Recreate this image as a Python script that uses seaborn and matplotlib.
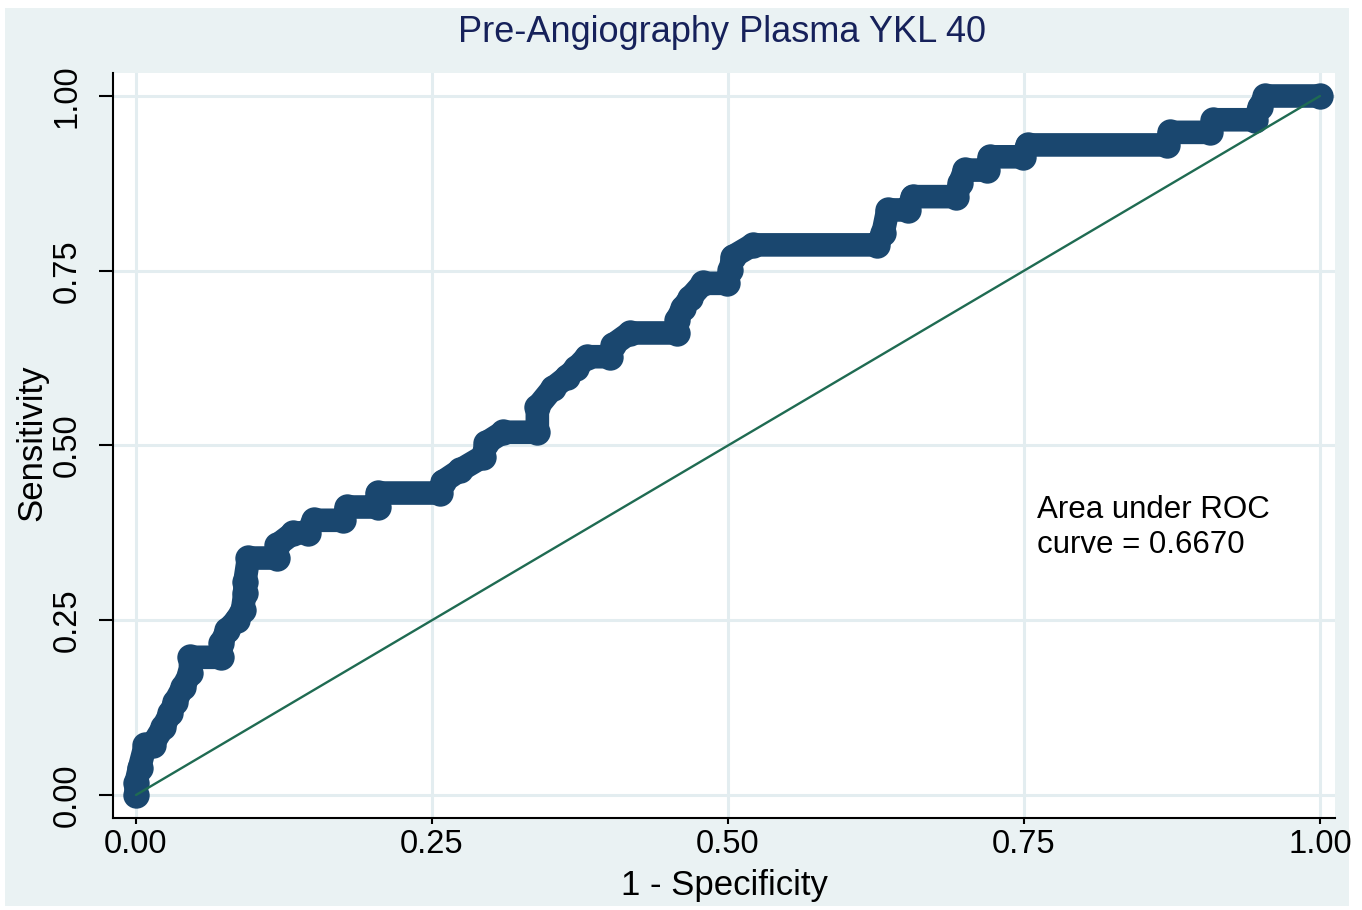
import matplotlib
matplotlib.use("Agg")
import matplotlib.pyplot as plt
import seaborn as sns
import pandas as pd
from matplotlib.patches import Rectangle

# ---- data ----
fpr = [0.000, 0.000, 0.003, 0.008, 0.014, 0.023, 0.029, 0.033, 0.040, 0.046,
       0.046, 0.072, 0.072, 0.077, 0.085, 0.090, 0.092, 0.092, 0.095, 0.119,
       0.119, 0.133, 0.145, 0.150, 0.175, 0.178, 0.204, 0.204, 0.257, 0.259,
       0.274, 0.293, 0.296, 0.310, 0.339, 0.339, 0.352, 0.364, 0.372, 0.381,
       0.400, 0.403, 0.417, 0.457, 0.457, 0.462, 0.468, 0.479, 0.499, 0.502,
       0.504, 0.521, 0.626, 0.631, 0.635, 0.652, 0.656, 0.693, 0.696, 0.700,
       0.719, 0.721, 0.749, 0.753, 0.871, 0.873, 0.907, 0.910, 0.945, 0.949,
       0.954, 1.000]
tpr = [0.000, 0.017, 0.039, 0.072, 0.072, 0.097, 0.117, 0.133, 0.155, 0.175,
       0.197, 0.197, 0.217, 0.236, 0.250, 0.265, 0.289, 0.305, 0.339, 0.339,
       0.357, 0.375, 0.375, 0.393, 0.393, 0.412, 0.412, 0.432, 0.432, 0.448,
       0.465, 0.484, 0.504, 0.519, 0.519, 0.555, 0.582, 0.598, 0.611, 0.627,
       0.627, 0.644, 0.661, 0.661, 0.680, 0.697, 0.711, 0.732, 0.732, 0.751,
       0.770, 0.787, 0.787, 0.804, 0.837, 0.837, 0.856, 0.856, 0.876, 0.894,
       0.894, 0.913, 0.913, 0.930, 0.930, 0.948, 0.948, 0.966, 0.966, 0.984,
       1.000, 1.000]
ref_x = [0.0, 1.0]
ref_y = [0.0, 1.0]
ticks = [0.0, 0.25, 0.5, 0.75, 1.0]
tick_labels = ["0.00", "0.25", "0.50", "0.75", "1.00"]
title = "Pre-Angiography Plasma YKL 40"
xlabel = "1 - Specificity"
ylabel = "Sensitivity"
auc_text = "Area under ROC\ncurve = 0.6670"

BG = "#EAF2F3"
GRID = "#E3EDF0"
NAVY = "#1A476F"
GREEN = "#1F6B52"
TITLE_C = "#16215A"

sns.set_theme(style="white")
plt.rcParams["font.family"] = ["Liberation Sans", "DejaVu Sans"]

fig = plt.figure(figsize=(13.62, 9.10), dpi=100)
fig.patch.set_facecolor("white")
fig.add_artist(Rectangle((5 / 1362, 4 / 910), 1344 / 1362, 898 / 910,
                         transform=fig.transFigure, facecolor=BG,
                         edgecolor="none", zorder=-10))

ax = fig.add_axes([113 / 1362, 1 - 818 / 910, 1222 / 1362, 745 / 910])
ax.set_facecolor("white")

df_roc = pd.DataFrame({"fpr": fpr, "tpr": tpr})
df_ref = pd.DataFrame({"x": ref_x, "y": ref_y})

sns.lineplot(data=df_roc, x="fpr", y="tpr", sort=False, estimator=None,
             color=NAVY, linewidth=17, marker="o", markersize=19,
             markeredgewidth=0, solid_capstyle="round",
             solid_joinstyle="round", ax=ax, zorder=3)
sns.lineplot(data=df_ref, x="x", y="y", sort=False, estimator=None,
             color=GREEN, linewidth=1.7, ax=ax, zorder=4)

ax.set_xlim(-0.0194, 1.0127)
ax.set_ylim(-0.0329, 1.0329)
ax.set_xticks(ticks)
ax.set_xticklabels(tick_labels)
ax.set_yticks(ticks)
ax.set_yticklabels(tick_labels)
ax.grid(True, color=GRID, linewidth=2.2, zorder=0)
ax.set_axisbelow(True)

for s in ["top", "right"]:
    ax.spines[s].set_visible(False)
for s in ["left", "bottom"]:
    ax.spines[s].set_visible(True)
    ax.spines[s].set_color("black")
    ax.spines[s].set_linewidth(1.5)

ax.tick_params(axis="y", which="both", left=True, direction="out", length=10,
               width=1.5, color="black", pad=12, labelsize=23.5,
               labelcolor="black", labelrotation=90)
for lab in ax.get_yticklabels():
    lab.set_verticalalignment("center")
ax.tick_params(axis="x", which="both", bottom=True, direction="out", length=4,
               width=1.5, color="black", pad=4, labelsize=23.5,
               labelcolor="black")

ax.set_xlabel("")
ax.set_ylabel("")

ax.text(0.761, 0.383, auc_text, ha="left", va="center", fontsize=22.5,
        color="black", linespacing=1.2)

fig.text(722 / 1362, 1 - 33 / 910, title, ha="center", va="center",
         fontsize=26, color=TITLE_C)
fig.text(724 / 1362, 1 - 885 / 910, xlabel, ha="center", va="center",
         fontsize=25, color="black")
fig.text(32 / 1362, 1 - 443 / 910, ylabel, ha="center", va="center",
         fontsize=25, color="black", rotation=90)

fig.savefig("out.png", dpi=100, facecolor=fig.get_facecolor())
